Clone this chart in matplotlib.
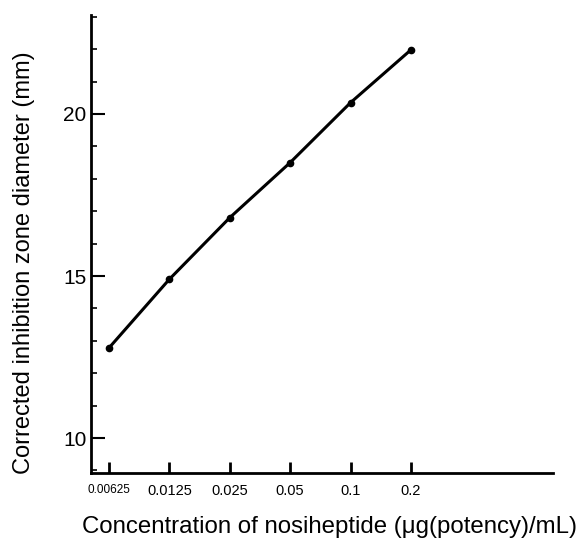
import numpy as np
import matplotlib
matplotlib.use("Agg")
import matplotlib.pyplot as plt
from matplotlib.ticker import FixedLocator, MultipleLocator, NullLocator

plt.rcParams['font.family'] = ['Liberation Sans', 'DejaVu Sans']

# data
concentration = [0.00625, 0.0125, 0.025, 0.05, 0.1, 0.2]
diameter = [12.78, 14.9, 16.8, 18.5, 20.35, 21.98]
tick_labels = ['0.00625', '0.0125', '0.025', '0.05', '0.1', '0.2']

fig = plt.figure(figsize=(5.79, 5.40), dpi=100)
ax = fig.add_axes([0.157, 0.124, 0.798, 0.848])

ax.plot(concentration, diameter, color='black', lw=2.2,
        marker='o', ms=4.5, solid_capstyle='round')

ax.set_xscale('log', base=2)
ax.set_xlim(0.00508, 1.02)
ax.set_ylim(8.92, 23.05)

ax.xaxis.set_major_locator(FixedLocator(concentration))
ax.xaxis.set_minor_locator(NullLocator())
ax.set_xticklabels(tick_labels)
for lab in ax.get_xticklabels():
    lab.set_fontsize(10.5)
ax.get_xticklabels()[0].set_fontsize(8.5)

ax.yaxis.set_major_locator(FixedLocator([10, 15, 20]))
ax.yaxis.set_minor_locator(MultipleLocator(1))
ax.tick_params(axis='y', which='major', direction='in', length=10, width=1.5,
               labelsize=15, pad=3)
ax.tick_params(axis='y', which='minor', direction='in', length=4, width=1.2)
ax.tick_params(axis='x', which='major', direction='in', length=8, width=2,
               pad=8)

for side in ('top', 'right'):
    ax.spines[side].set_visible(False)
for side in ('left', 'bottom'):
    ax.spines[side].set_linewidth(2)

ax.set_ylabel('Corrected inhibition zone diameter (mm)', fontsize=17)
ax.yaxis.set_label_coords(-0.12, 0.46)
ax.set_xlabel('Concentration of nosiheptide (\u03bcg(potency)/mL)', fontsize=17.3)
ax.xaxis.set_label_coords(0.517, -0.094)

fig.savefig('out.png', dpi=100)
